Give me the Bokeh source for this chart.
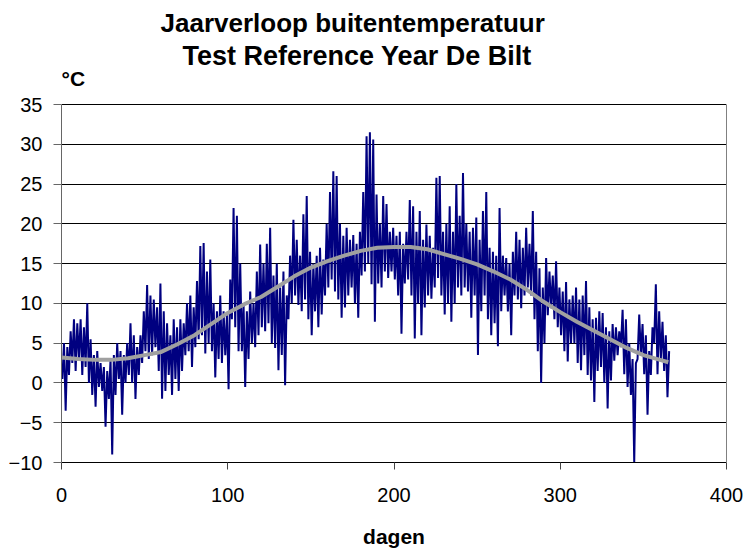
from bokeh.plotting import figure
from bokeh.models import ColumnDataSource, Title, Range1d, FixedTicker, LinearAxis
from bokeh.embed import file_html
from bokeh.resources import INLINE

# --- data -------------------------------------------------------------
# two-day blocks: block start day, block maximum and minimum temperature (°C)
block_start = list(range(0, 366, 2))
block_hi = [
    5.0, 4.5, 6.5, 8.0, 7.5, 8.0, 7.0, 10.0, 5.5, 3.5,
    4.0, 2.5, 2.0, 1.5, 3.0, 3.5, 5.0, 4.0, 3.5, 5.0,
    7.5, 6.0, 4.5, 6.0, 9.0, 12.3, 11.0, 10.5, 9.5, 12.5,
    9.0, 7.5, 6.0, 8.0, 7.0, 8.0, 7.5, 10.0, 11.0, 9.5,
    12.8, 17.2, 17.6, 14.0, 15.5, 10.0, 9.0, 11.0, 9.0, 8.5,
    13.0, 22.0, 21.0, 15.0, 10.0, 9.0, 11.5, 10.0, 14.0, 17.4,
    15.0, 17.5, 19.5, 13.5, 15.0, 12.0, 14.0, 11.0, 16.0, 20.5,
    18.0, 16.0, 21.2, 23.5, 16.5, 15.0, 16.0, 17.0, 15.5, 20.0,
    24.0, 26.6, 26.0, 20.0, 18.5, 19.5, 18.0, 18.6, 17.5, 19.0,
    24.0, 31.0, 31.5, 30.6, 23.7, 20.0, 23.5, 22.5, 19.0, 19.5,
    18.5, 19.0, 17.5, 19.0, 23.0, 22.2, 19.0, 21.6, 18.0, 19.9,
    18.5, 17.0, 25.8, 26.0, 19.0, 20.0, 22.2, 19.0, 25.0, 21.0,
    26.4, 20.0, 19.0, 19.5, 20.8, 18.0, 21.6, 24.0, 17.0, 16.5,
    16.0, 22.0, 16.0, 15.7, 15.0, 16.5, 19.0, 18.0, 17.0, 19.5,
    17.5, 21.6, 16.5, 14.4, 12.0, 15.7, 14.0, 13.5, 15.3, 12.0,
    11.5, 12.7, 10.5, 11.0, 12.0, 10.5, 11.0, 12.8, 9.5, 8.0,
    8.2, 9.0, 8.8, 7.0, 6.5, 7.4, 7.0, 6.5, 9.2, 8.0,
    5.0, 3.0, 2.5, 8.6, 7.4, 6.0, 4.0, 7.0, 12.4, 9.0,
    7.7, 6.0, 4.0,
]
block_lo = [
    0.5, -3.5, 1.0, 2.5, 1.5, 3.0, 1.0, 2.0, 0.0, -1.5,
    -3.0, -0.5, -1.0, -5.5, -2.0, -9.0, -1.5, 0.5, -4.0, 0.0,
    1.0, 0.0, -2.0, 1.0, 2.5, 4.0, 3.0, 3.5, 4.5, 1.5,
    -2.0, -1.0, 1.0, -1.5, 0.5, -1.0, 1.5, 3.5, 4.0, 2.0,
    4.5, 5.5, 6.0, 3.7, 5.0, 4.0, 0.7, 3.0, 2.5, 3.5,
    -0.8, 8.0, 7.0, 4.0, 4.0, -0.5, 3.0, 5.0, 4.5, 6.0,
    7.0, 6.5, 7.5, 5.0, 4.4, 1.6, 3.5, -0.3, 8.0, 10.0,
    11.0, 9.8, 9.0, 10.5, 8.0, 6.0, 9.0, 7.0, 8.6, 11.0,
    12.0, 13.0, 11.5, 10.5, 8.2, 9.5, 11.0, 12.0, 10.0, 8.2,
    13.5, 14.0, 15.0, 12.4, 7.7, 12.5, 12.0, 14.0, 13.2, 14.0,
    13.0, 11.0, 6.2, 12.5, 13.0, 11.0, 5.6, 10.0, 6.0, 9.5,
    11.0, 10.6, 12.0, 13.2, 11.0, 8.6, 10.0, 7.7, 10.0, 12.0,
    11.0, 12.0, 11.5, 8.2, 11.0, 3.5, 9.0, 11.0, 8.0, 6.0,
    7.5, 4.6, 9.0, 11.0, 9.0, 6.0, 11.0, 10.5, 9.4, 11.0,
    12.0, 11.0, 8.0, 4.0, 0.0, 5.0, 8.5, 9.4, 8.0, 7.0,
    6.0, 4.0, 2.7, 5.0, 5.0, 2.5, 1.6, 3.5, 1.0, 0.3,
    -2.4, 1.5, 2.0, 0.0, -3.2, 0.3, 2.8, 3.5, 4.5, 1.1,
    -0.5, -1.5, -10.0, 3.0, 3.5, 1.1, -4.0, 1.0, 5.0, 1.1,
    3.0, 1.5, -1.8,
]

# smooth yearly trend (grey curve)
trend_day = [0, 10, 20, 30, 40, 50, 60, 70, 80, 90, 100, 110, 120, 130, 140,
             150, 160, 170, 180, 190, 200, 210, 220, 230, 240, 250, 260, 270,
             280, 290, 300, 310, 320, 330, 340, 350, 360, 365]
trend_temp = [3.2, 3.0, 2.9, 2.9, 3.1, 3.5, 3.9, 4.9, 6.0, 7.4, 8.8, 9.9, 10.8,
              12.1, 13.4, 14.5, 15.3, 16.0, 16.6, 17.0, 17.1, 17.1, 16.8, 16.2,
              15.6, 14.9, 14.0, 13.0, 11.7, 10.2, 8.9, 7.7, 6.6, 5.5, 4.4, 3.5,
              2.9, 2.6]

y_ticks = [-10, -5, 0, 5, 10, 15, 20, 25, 30, 35]
x_ticks = [0, 100, 200, 300, 400]

# build the zig-zag temperature trace from the block extremes
xs, ys = [], []
for d, lo, hi in zip(block_start, block_lo, block_hi):
    xs += [d + 0.5, d + 1.5]
    ys += [lo, hi]
src = ColumnDataSource(dict(x=xs, y=ys))
trend = ColumnDataSource(dict(x=trend_day, y=trend_temp))

FONT = "Liberation Sans"

# layout geometry (pixels)
W, H = 747, 554
LEFT, RIGHT, BOTTOM = 61, 21, 92
PLOT_TOP = 104          # pixel row of the 35 °C line
FRAME_TOP = 70          # frame extends a little above it to hold the unit label
plot_h = H - BOTTOM - PLOT_TOP
y_lo, y_hi = y_ticks[0], y_ticks[-1]
y_end = y_hi + (PLOT_TOP - FRAME_TOP) * (y_hi - y_lo) / plot_h

p = figure(width=W, height=H, output_backend="svg", toolbar_location=None,
           x_range=Range1d(x_ticks[0], x_ticks[-1]), y_range=Range1d(y_lo, y_end),
           min_border_left=LEFT, min_border_right=RIGHT, min_border_bottom=BOTTOM,
           min_border_top=FRAME_TOP)
p.background_fill_color = "white"
p.border_fill_color = "white"
p.outline_line_color = None

p.line("x", "y", source=src, line_color="#000080", line_width=2)
p.line("x", "y", source=trend, line_color="#a0a0a0", line_width=4)

p.xgrid.visible = False
p.ygrid.grid_line_color = "black"
p.ygrid.grid_line_width = 1
p.ygrid.ticker = FixedTicker(ticks=y_ticks)

ya = p.yaxis[0]
ya.ticker = FixedTicker(ticks=y_ticks)
ya.bounds = (y_lo, y_hi)
ya.axis_line_color = "#666666"
ya.major_tick_line_color = "#666666"
ya.major_tick_out = 8
ya.major_tick_in = 0
ya.minor_tick_line_color = None
ya.major_label_standoff = 11
ya.major_label_text_font = FONT
ya.major_label_text_font_size = "20px"
ya.major_label_text_color = "black"

# grey plot-area border on the right
ra = LinearAxis(ticker=FixedTicker(ticks=[]), bounds=(y_lo, y_hi),
                axis_line_color="#808080", major_tick_line_color=None,
                minor_tick_line_color=None, major_label_text_font_size="0px")
p.add_layout(ra, "right")

xa = p.xaxis[0]
xa.ticker = FixedTicker(ticks=x_ticks)
xa.axis_line_color = "black"
xa.major_tick_line_color = "#444444"
xa.major_tick_out = 7
xa.major_tick_in = 0
xa.minor_tick_line_color = None
xa.major_label_standoff = 18
xa.major_label_text_font = FONT
xa.major_label_text_font_size = "20px"
xa.major_label_text_color = "black"
xa.axis_label = "dagen"
xa.axis_label_text_font = FONT
xa.axis_label_text_font_size = "21px"
xa.axis_label_text_font_style = "bold"
xa.axis_label_text_color = "black"
xa.axis_label_standoff = 20

# unit label just above the top-left corner of the plot area
p.text(x=[x_ticks[0]], y=[y_hi], text=["°C"], y_offset=-26,
       text_align="left", text_baseline="alphabetic",
       text_font={"value": FONT}, text_font_size="21px",
       text_font_style="bold", text_color="black")

line2 = Title(text="Test Reference Year De Bilt", align="left", offset=121,
              standoff=0, text_font=FONT, text_font_size="27px",
              text_font_style="bold", text_color="black")
line1 = Title(text="Jaarverloop buitentemperatuur", align="left", offset=99,
              standoff=2, text_font=FONT, text_font_size="26px",
              text_font_style="bold", text_color="black")
p.add_layout(line2, "above")
p.add_layout(line1, "above")

open("out.html", "w").write(file_html(p, INLINE))
